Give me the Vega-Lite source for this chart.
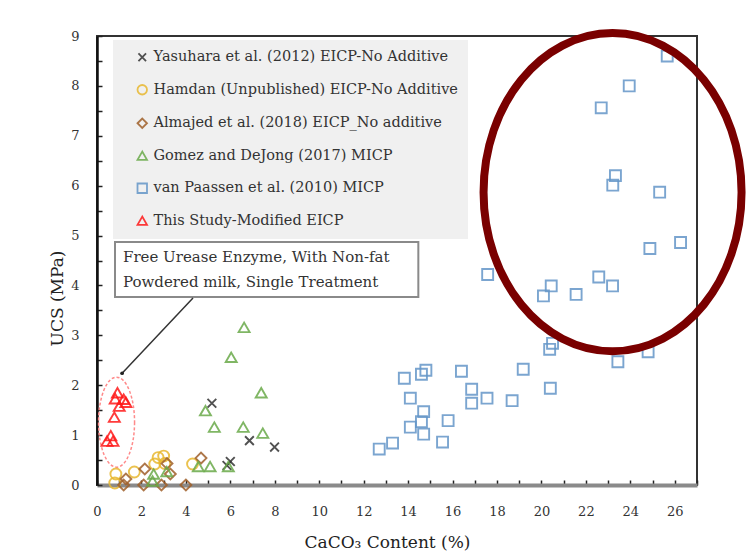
{
  "$schema": "https://vega.github.io/schema/vega-lite/v6.json",
  "width": 600,
  "height": 449,
  "autosize": {"type": "none"},
  "padding": {"left": 97, "top": 36, "right": 49, "bottom": 75},
  "background": "white",
  "config": {"font": "DejaVu Serif", "view": {"stroke": "#333", "strokeWidth": 2}},
  "datasets": {
    "points": [
      {"series": "Yasuhara et al. (2012) EICP-No Additive", "caco3": 5.17, "ucs": 1.64},
      {"series": "Yasuhara et al. (2012) EICP-No Additive", "caco3": 6.86, "ucs": 0.89},
      {"series": "Yasuhara et al. (2012) EICP-No Additive", "caco3": 7.99, "ucs": 0.76},
      {"series": "Yasuhara et al. (2012) EICP-No Additive", "caco3": 6.0, "ucs": 0.47},
      {"series": "Yasuhara et al. (2012) EICP-No Additive", "caco3": 5.85, "ucs": 0.39},
      {"series": "Hamdan (Unpublished) EICP-No Additive", "caco3": 0.85, "ucs": 0.22},
      {"series": "Hamdan (Unpublished) EICP-No Additive", "caco3": 0.8, "ucs": 0.04},
      {"series": "Hamdan (Unpublished) EICP-No Additive", "caco3": 1.68, "ucs": 0.26},
      {"series": "Hamdan (Unpublished) EICP-No Additive", "caco3": 2.6, "ucs": 0.42},
      {"series": "Hamdan (Unpublished) EICP-No Additive", "caco3": 2.75, "ucs": 0.55},
      {"series": "Hamdan (Unpublished) EICP-No Additive", "caco3": 3.0, "ucs": 0.58},
      {"series": "Hamdan (Unpublished) EICP-No Additive", "caco3": 3.05, "ucs": 0.43},
      {"series": "Hamdan (Unpublished) EICP-No Additive", "caco3": 4.3, "ucs": 0.42},
      {"series": "Almajed et al. (2018) EICP_No additive", "caco3": 1.2, "ucs": 0.0},
      {"series": "Almajed et al. (2018) EICP_No additive", "caco3": 2.1, "ucs": 0.0},
      {"series": "Almajed et al. (2018) EICP_No additive", "caco3": 2.9, "ucs": 0.0},
      {"series": "Almajed et al. (2018) EICP_No additive", "caco3": 4.0, "ucs": 0.0},
      {"series": "Almajed et al. (2018) EICP_No additive", "caco3": 1.3, "ucs": 0.12},
      {"series": "Almajed et al. (2018) EICP_No additive", "caco3": 2.15, "ucs": 0.32},
      {"series": "Almajed et al. (2018) EICP_No additive", "caco3": 3.15, "ucs": 0.43},
      {"series": "Almajed et al. (2018) EICP_No additive", "caco3": 3.3, "ucs": 0.22},
      {"series": "Almajed et al. (2018) EICP_No additive", "caco3": 4.68, "ucs": 0.54},
      {"series": "Gomez and DeJong (2017) MICP", "caco3": 6.62, "ucs": 3.16},
      {"series": "Gomez and DeJong (2017) MICP", "caco3": 6.04, "ucs": 2.56},
      {"series": "Gomez and DeJong (2017) MICP", "caco3": 7.39, "ucs": 1.85},
      {"series": "Gomez and DeJong (2017) MICP", "caco3": 4.88, "ucs": 1.49},
      {"series": "Gomez and DeJong (2017) MICP", "caco3": 5.28, "ucs": 1.16},
      {"series": "Gomez and DeJong (2017) MICP", "caco3": 6.58, "ucs": 1.16},
      {"series": "Gomez and DeJong (2017) MICP", "caco3": 7.46, "ucs": 1.04},
      {"series": "Gomez and DeJong (2017) MICP", "caco3": 4.56, "ucs": 0.37},
      {"series": "Gomez and DeJong (2017) MICP", "caco3": 5.09, "ucs": 0.37},
      {"series": "Gomez and DeJong (2017) MICP", "caco3": 5.91, "ucs": 0.37},
      {"series": "Gomez and DeJong (2017) MICP", "caco3": 3.14, "ucs": 0.27},
      {"series": "Gomez and DeJong (2017) MICP", "caco3": 2.55, "ucs": 0.22},
      {"series": "Gomez and DeJong (2017) MICP", "caco3": 2.5, "ucs": 0.08},
      {"series": "van Paassen et al. (2010) MICP", "caco3": 25.66, "ucs": 8.6},
      {"series": "van Paassen et al. (2010) MICP", "caco3": 23.95, "ucs": 8.0},
      {"series": "van Paassen et al. (2010) MICP", "caco3": 22.69, "ucs": 7.56},
      {"series": "van Paassen et al. (2010) MICP", "caco3": 23.33, "ucs": 6.2},
      {"series": "van Paassen et al. (2010) MICP", "caco3": 23.21, "ucs": 6.01},
      {"series": "van Paassen et al. (2010) MICP", "caco3": 25.32, "ucs": 5.87},
      {"series": "van Paassen et al. (2010) MICP", "caco3": 26.26, "ucs": 4.86},
      {"series": "van Paassen et al. (2010) MICP", "caco3": 24.88, "ucs": 4.74},
      {"series": "van Paassen et al. (2010) MICP", "caco3": 22.58, "ucs": 4.17},
      {"series": "van Paassen et al. (2010) MICP", "caco3": 23.2, "ucs": 3.99},
      {"series": "van Paassen et al. (2010) MICP", "caco3": 21.56, "ucs": 3.82},
      {"series": "van Paassen et al. (2010) MICP", "caco3": 20.44, "ucs": 3.99},
      {"series": "van Paassen et al. (2010) MICP", "caco3": 20.09, "ucs": 3.79},
      {"series": "van Paassen et al. (2010) MICP", "caco3": 17.58, "ucs": 4.22},
      {"series": "van Paassen et al. (2010) MICP", "caco3": 20.5, "ucs": 2.84},
      {"series": "van Paassen et al. (2010) MICP", "caco3": 20.37, "ucs": 2.72},
      {"series": "van Paassen et al. (2010) MICP", "caco3": 24.8, "ucs": 2.67},
      {"series": "van Paassen et al. (2010) MICP", "caco3": 23.44, "ucs": 2.47},
      {"series": "van Paassen et al. (2010) MICP", "caco3": 19.18, "ucs": 2.32},
      {"series": "van Paassen et al. (2010) MICP", "caco3": 20.4, "ucs": 1.94},
      {"series": "van Paassen et al. (2010) MICP", "caco3": 13.83, "ucs": 2.14},
      {"series": "van Paassen et al. (2010) MICP", "caco3": 14.6, "ucs": 2.22},
      {"series": "van Paassen et al. (2010) MICP", "caco3": 14.8, "ucs": 2.3},
      {"series": "van Paassen et al. (2010) MICP", "caco3": 16.4, "ucs": 2.28},
      {"series": "van Paassen et al. (2010) MICP", "caco3": 14.1, "ucs": 1.74},
      {"series": "van Paassen et al. (2010) MICP", "caco3": 16.86, "ucs": 1.92},
      {"series": "van Paassen et al. (2010) MICP", "caco3": 16.86, "ucs": 1.64},
      {"series": "van Paassen et al. (2010) MICP", "caco3": 17.55, "ucs": 1.74},
      {"series": "van Paassen et al. (2010) MICP", "caco3": 18.68, "ucs": 1.69},
      {"series": "van Paassen et al. (2010) MICP", "caco3": 14.7, "ucs": 1.47},
      {"series": "van Paassen et al. (2010) MICP", "caco3": 14.6, "ucs": 1.27},
      {"series": "van Paassen et al. (2010) MICP", "caco3": 14.1, "ucs": 1.16},
      {"series": "van Paassen et al. (2010) MICP", "caco3": 15.8, "ucs": 1.29},
      {"series": "van Paassen et al. (2010) MICP", "caco3": 14.7, "ucs": 1.02},
      {"series": "van Paassen et al. (2010) MICP", "caco3": 15.55, "ucs": 0.86},
      {"series": "van Paassen et al. (2010) MICP", "caco3": 13.3, "ucs": 0.84},
      {"series": "van Paassen et al. (2010) MICP", "caco3": 12.7, "ucs": 0.72},
      {"series": "This Study-Modified EICP", "caco3": 0.92, "ucs": 1.85},
      {"series": "This Study-Modified EICP", "caco3": 0.82, "ucs": 1.73},
      {"series": "This Study-Modified EICP", "caco3": 1.2, "ucs": 1.72},
      {"series": "This Study-Modified EICP", "caco3": 1.3, "ucs": 1.66},
      {"series": "This Study-Modified EICP", "caco3": 1.0, "ucs": 1.58},
      {"series": "This Study-Modified EICP", "caco3": 0.78, "ucs": 1.36},
      {"series": "This Study-Modified EICP", "caco3": 0.62, "ucs": 0.99},
      {"series": "This Study-Modified EICP", "caco3": 0.45, "ucs": 0.88},
      {"series": "This Study-Modified EICP", "caco3": 0.72, "ucs": 0.88}
    ],
    "box": [{"caco3": 0.81, "caco3_end": 14.46, "ucs": 4.87, "ucs_end": 3.77}],
    "boxtext": [
      {"caco3": 1.17, "ucs": 4.57, "line": "Free Urease Enzyme, With Non-fat"},
      {"caco3": 1.17, "ucs": 4.07, "line": "Powdered milk, Single Treatment"}
    ],
    "arrow": [{"caco3": 4.32, "ucs": 3.75, "caco3_end": 1.13, "ucs_end": 2.24}],
    "arrowhead": [{"caco3": 1.13, "ucs": 2.24}],
    "bigring": [{"caco3": 23.2, "ucs": 5.87}],
    "smallring": [{"caco3": 0.88, "ucs": 1.26}]
  },
  "encoding": {
    "x": {
      "field": "caco3", "type": "quantitative", "title": "CaCO₃ Content (%)",
      "scale": {"domain": [0, 27], "nice": false, "zero": false},
      "axis": {
        "values": [0,1,2,3,4,5,6,7,8,9,10,11,12,13,14,15,16,17,18,19,20,21,22,23,24,25,26,27],
        "labelExpr": "datum.value % 2 == 0 && datum.value < 27 ? format(datum.value, 'd') : ''",
        "grid": false, "labelFlush": false, "labelOverlap": false,
        "domainColor": "#8a8a8a", "domainWidth": 4,
        "tickColor": "#222", "tickSize": -5, "tickWidth": 1.5,
        "labelPadding": 25, "labelFontSize": 13, "labelColor": "#333", "labelFont": "DejaVu Serif",
        "titleFontSize": 17, "titleColor": "#222", "titleFont": "DejaVu Serif", "titleFontWeight": "normal", "titlePadding": 16, "titleX": 290
      }
    },
    "y": {
      "field": "ucs", "type": "quantitative", "title": "UCS (MPa)",
      "scale": {"domain": [0, 9], "nice": false, "zero": false},
      "axis": {
        "values": [0,0.5,1,1.5,2,2.5,3,3.5,4,4.5,5,5.5,6,6.5,7,7.5,8,8.5,9],
        "labelExpr": "datum.value % 1 == 0 ? format(datum.value, 'd') : ''",
        "grid": false, "labelFlush": false, "labelOverlap": false,
        "domainColor": "#111", "domainWidth": 2.5,
        "tickColor": "#222", "tickSize": -5, "tickWidth": 1.5,
        "labelPadding": 23, "labelFontSize": 13, "labelColor": "#333", "labelFont": "DejaVu Serif",
        "titleFontSize": 17, "titleColor": "#222", "titleFont": "DejaVu Serif", "titleFontWeight": "normal",
        "titleX": -40, "titleY": 262, "titleBaseline": "middle", "titleAlign": "center", "titleAngle": -90
      }
    }
  },
  "layer": [
    {
      "data": {"name": "box"},
      "mark": {"type": "rect", "fill": "white", "stroke": "#8a8a8a", "strokeWidth": 2},
      "encoding": {"x2": {"field": "caco3_end"}, "y2": {"field": "ucs_end"}}
    },
    {
      "data": {"name": "boxtext"},
      "mark": {"type": "text", "align": "left", "baseline": "middle", "fontSize": 15, "color": "#333", "font": "DejaVu Serif"},
      "encoding": {"text": {"field": "line"}}
    },
    {
      "data": {"name": "arrow"},
      "mark": {"type": "rule", "stroke": "#333", "strokeWidth": 1.5},
      "encoding": {"x2": {"field": "caco3_end"}, "y2": {"field": "ucs_end"}}
    },
    {
      "data": {"name": "arrowhead"},
      "mark": {"type": "point", "shape": "circle", "filled": true, "size": 14, "color": "#222", "opacity": 1},
      "encoding": {}
    },
    {
      "data": {"name": "smallring"},
      "mark": {"type": "point", "shape": "M1,0A1,2.5 0 0,1 0,2.5A1,2.5 0 0,1 -1,0A1,2.5 0 0,1 0,-2.5A1,2.5 0 0,1 1,0Z", "size": 1296, "filled": false, "stroke": "#ff8a8a", "strokeWidth": 1.5, "strokeDash": [3, 2], "opacity": 1},
      "encoding": {}
    },
    {
      "data": {"name": "points"},
      "mark": {"type": "point", "filled": false, "size": 120, "strokeWidth": 1.9, "opacity": 0.85},
      "encoding": {
        "color": {
          "field": "series", "type": "nominal",
          "scale": {
            "domain": ["Yasuhara et al. (2012) EICP-No Additive", "Hamdan (Unpublished) EICP-No Additive", "Almajed et al. (2018) EICP_No additive", "Gomez and DeJong (2017) MICP", "van Paassen et al. (2010) MICP", "This Study-Modified EICP"],
            "range": ["#333333", "#e8b830", "#a0602a", "#6aaa4a", "#6496c8", "#ff1a1a"]
          },
          "legend": {"orient": "none", "legendX": 16, "legendY": 4, "title": null, "fillColor": "#f0f0f0", "padding": 10, "labelFontSize": 14.5, "labelColor": "#333", "labelFont": "DejaVu Serif", "symbolSize": 90, "symbolStrokeWidth": 1.8, "rowPadding": 15.5, "symbolOffset": 12, "labelOffset": 4, "labelLimit": 400}
        },
        "shape": {
          "field": "series", "type": "nominal",
          "scale": {
            "domain": ["Yasuhara et al. (2012) EICP-No Additive", "Hamdan (Unpublished) EICP-No Additive", "Almajed et al. (2018) EICP_No additive", "Gomez and DeJong (2017) MICP", "van Paassen et al. (2010) MICP", "This Study-Modified EICP"],
            "range": ["M-0.8,-0.8L0.8,0.8M-0.8,0.8L0.8,-0.8", "circle", "diamond", "triangle-up", "square", "triangle-up"]
          },
          "legend": {"orient": "none", "legendX": 16, "legendY": 4, "title": null, "fillColor": "#f0f0f0", "padding": 10, "labelFontSize": 14.5, "labelColor": "#333", "labelFont": "DejaVu Serif", "symbolSize": 90, "symbolStrokeWidth": 1.8, "rowPadding": 15.5, "symbolOffset": 12, "labelOffset": 4, "labelLimit": 400}
        }
      }
    },
    {
      "data": {"name": "bigring"},
      "mark": {"type": "point", "shape": "M1,0A1,1.233 0 0,1 0,1.233A1,1.233 0 0,1 -1,0A1,1.233 0 0,1 0,-1.233A1,1.233 0 0,1 1,0Z", "size": 66564, "filled": false, "stroke": "#7a0000", "strokeWidth": 8, "opacity": 1},
      "encoding": {}
    }
  ]
}
